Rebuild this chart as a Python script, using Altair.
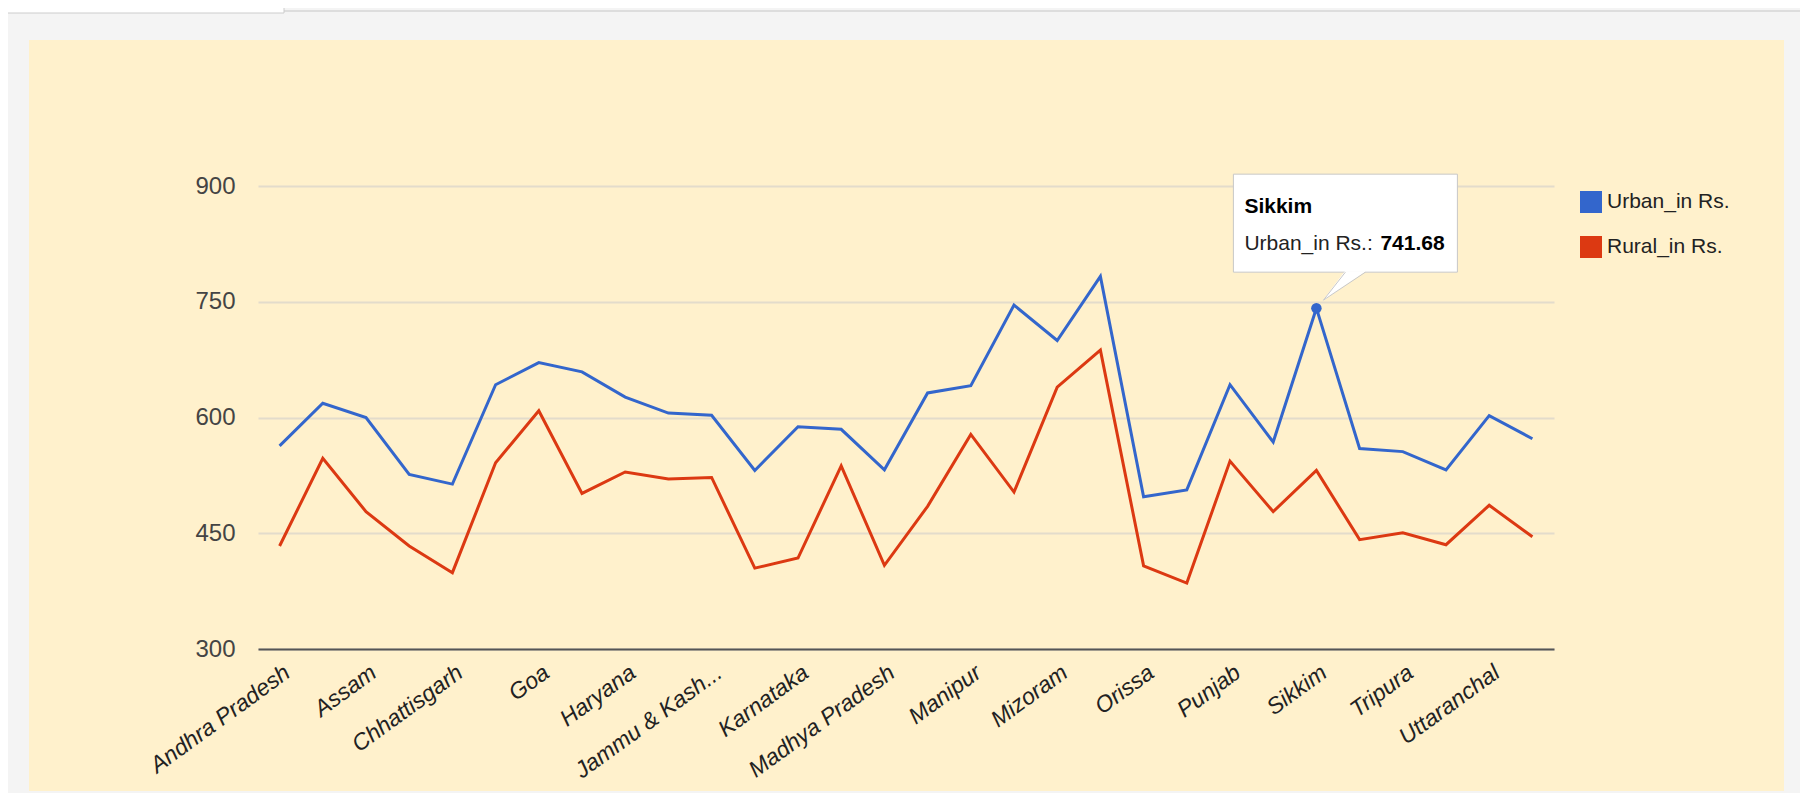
import altair as alt
import pandas as pd

states = ["Andhra Pradesh", "Arunachal Pradesh", "Assam", "Bihar", "Chhattisgarh",
          "Delhi", "Goa", "Gujarat", "Haryana", "Himachal Pradesh",
          "Jammu & Kashmir", "Jharkhand", "Karnataka", "Kerala", "Madhya Pradesh",
          "Maharashtra", "Manipur", "Meghalaya", "Mizoram", "Nagaland",
          "Orissa", "Pondicherry", "Punjab", "Rajasthan", "Sikkim",
          "Tamil Nadu", "Tripura", "Uttar Pradesh", "Uttaranchal", "West Bengal"]
urban = [563.16, 618.45, 600.03, 526.18, 513.70, 642.47, 671.15, 659.18, 626.41, 605.74,
         602.89, 531.35, 588.06, 584.70, 532.26, 631.85, 641.13, 745.73, 699.75, 782.93,
         497.31, 506.17, 642.51, 568.15, 741.68, 559.77, 555.79, 532.12, 602.39, 572.51]
rural = [433.43, 547.14, 478.00, 433.43, 398.92, 541.39, 608.76, 501.58, 529.42, 520.40,
         522.30, 404.79, 417.84, 537.31, 408.41, 484.89, 578.11, 503.32, 639.27, 687.30,
         407.78, 385.45, 543.51, 478.00, 531.50, 441.69, 450.49, 435.14, 486.24, 445.38]
series_names = ["Urban_in Rs.", "Rural_in Rs."]
series_colors = ["#3366cc", "#dc3912"]
y_ticks = [300, 450, 600, 750, 900]
x_label_states = states[::2]
hover_state = "Sikkim"
hover_series = "Urban_in Rs."

FONT = "Liberation Sans, Arial, sans-serif"
W, H = 1296, 463

rows = []
for s, u, r in zip(states, urban, rural):
    rows.append({"state": s, "series": series_names[0], "value": u})
    rows.append({"state": s, "series": series_names[1], "value": r})
df = pd.DataFrame(rows)
hover = df[(df.state == hover_state) & (df.series == hover_series)].reset_index(drop=True)
one = pd.DataFrame({"k": [0]})

def X(**kw):
    return alt.X("state:N", sort=states, scale=alt.Scale(type="point", padding=0.5), **kw)

def Y(**kw):
    return alt.Y("value:Q", scale=alt.Scale(domain=[300, 900], nice=False, zero=False), **kw)

x_axis = alt.Axis(
    title=None, values=x_label_states, labelAngle=324, labelAlign="right", labelBaseline="top",
    labelPadding=12, labelOffset=1, labelFont=FONT, labelFontSize=23, labelFontStyle="italic",
    labelColor="#222222", ticks=False, grid=False, domainColor="#555555", domainWidth=2,
    labelOverlap=False, labelLimit=400,
    labelExpr="datum.label == 'Jammu & Kashmir' ? 'Jammu & Kash...' : datum.label",
)
y_axis = alt.Axis(
    title=None, values=y_ticks, labelFont=FONT, labelFontSize=24, labelColor="#444444",
    labelPadding=23, ticks=False, domain=False, grid=True, gridColor="#e3dccb", gridWidth=2,
)

GREY = "#f4f4f4"
# grey frame around the yellow panel (chrome)
frame = alt.layer(
    alt.Chart(one).mark_rect(color=GREY).encode(x=alt.value(-250), x2=alt.value(-229), y=alt.value(-178), y2=alt.value(H + 144)),
    alt.Chart(one).mark_rect(color=GREY).encode(x=alt.value(1526), x2=alt.value(W + 246), y=alt.value(-178), y2=alt.value(H + 144)),
    alt.Chart(one).mark_rect(color=GREY).encode(x=alt.value(-250), x2=alt.value(W + 246), y=alt.value(-178), y2=alt.value(-146)),
    alt.Chart(one).mark_rect(color=GREY).encode(x=alt.value(-250), x2=alt.value(W + 246), y=alt.value(605), y2=alt.value(H + 144)),
    alt.Chart(one).mark_rule(color="#dddddd", strokeWidth=2).encode(x=alt.value(-250), x2=alt.value(W + 246), y=alt.value(-175)),
    alt.Chart(one).mark_rect(color="white", stroke="#cccccc", strokeWidth=1).encode(x=alt.value(-252), x2=alt.value(26), y=alt.value(-190), y2=alt.value(-173)),
)

lines = alt.Chart(df).mark_line(strokeWidth=3).encode(
    x=X(axis=x_axis),
    y=Y(axis=y_axis),
    color=alt.Color(
        "series:N",
        scale=alt.Scale(domain=series_names, range=series_colors),
        legend=alt.Legend(
            title=None, orient="none", legendX=1322, legendY=5, symbolType="square",
            symbolSize=121, symbolStrokeWidth=11, labelFont=FONT, labelFontSize=21,
            labelColor="#222222", labelOffset=5, rowPadding=-11,
        ),
    ),
)

dot = alt.Chart(hover).mark_circle(size=110, color=series_colors[0], opacity=1).encode(x=X(), y=Y())

box = alt.Chart(hover).mark_rect(
    fill="white", stroke="#c8c8c8", strokeWidth=1,
    xOffset=-83, x2Offset=141, yOffset=-134, y2Offset=-36,
).encode(x=X(), x2="state:N", y=Y(), y2="value:Q")

tail = alt.Chart(hover).mark_point(
    shape="M7,-8L29,-37L49,-37Z", size=4, filled=True, fill="white", stroke="white", strokeWidth=1, opacity=1,
).encode(x=X(), y=Y())
tail_edge = alt.Chart(hover).mark_point(
    shape="M29,-36L7,-8L49,-36", size=4, filled=False, stroke="#c8c8c8", strokeWidth=1, opacity=1,
).encode(x=X(), y=Y())

t_state = alt.Chart(hover).mark_text(
    align="left", baseline="alphabetic", dx=-72, dy=-95, font=FONT, fontSize=21, fontWeight="bold", color="#000000",
).encode(x=X(), y=Y(), text="state:N")
t_series = alt.Chart(hover).mark_text(
    align="left", baseline="alphabetic", dx=-72, dy=-58, font=FONT, fontSize=21, color="#222222",
).encode(x=X(), y=Y(), text=alt.value(hover_series + ":"))
t_value = alt.Chart(hover).mark_text(
    align="left", baseline="alphabetic", dx=64, dy=-58, font=FONT, fontSize=21, fontWeight="bold", color="#000000",
).encode(x=X(), y=Y(), text=alt.Text("value:Q", format=".2f"))

chart = alt.layer(frame, lines, dot, box, tail, tail_edge, t_state, t_series, t_value).properties(
    width=W, height=H,
    background="#fff1cc",
    padding={"left": 250, "top": 178, "right": 246, "bottom": 144},
    autosize=alt.AutoSizeParams(type="none"),
).configure_view(stroke=None)

chart.save("out.html", embed_options={"renderer": "svg", "actions": False})
